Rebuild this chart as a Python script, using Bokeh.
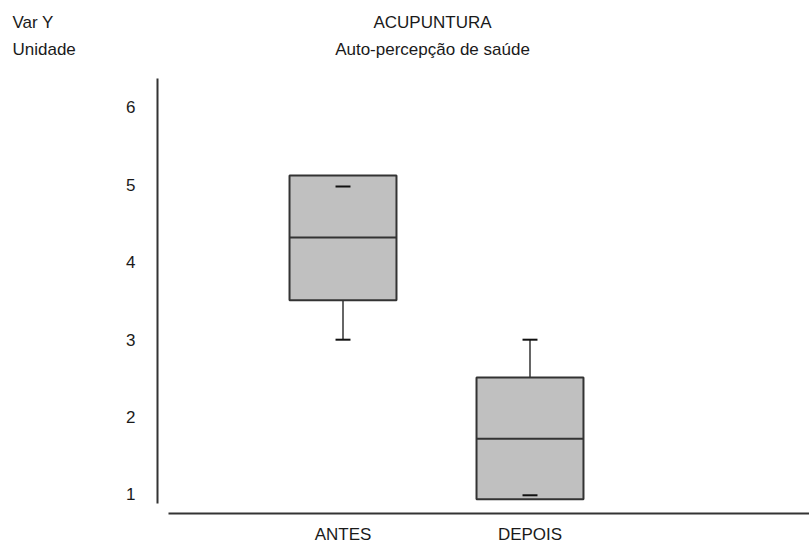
import numpy as np
from bokeh.plotting import figure
from bokeh.models import Range1d, FixedTicker, Label
from bokeh.embed import file_html
from bokeh.resources import INLINE

# ---- data ----
categories = ["ANTES", "DEPOIS"]
q1 = [3.51, 0.94]
median = [4.32, 1.72]
q3 = [5.12, 2.51]
whisker_low = [3.0, 0.99]
whisker_high = [4.98, 3.0]
y_ticks = [1, 2, 3, 4, 5, 6]

title_text = "ACUPUNTURA"
subtitle_text = "Auto-percepção de saúde"
var_label = "Var Y"
unit_label = "Unidade"

# ---- layout / styling ----
W, H = 809, 542
FONT = "Liberation Sans"
FS = "17px"
TXT = "#1a1a1a"
LINE = "#333333"
BOX_FILL = "#c0c0c0"
BOX_W = 0.572
CAP_W = 0.08

# frame covers the whole canvas; axes sit at fixed pixel positions inside it
X_START, X_END = -0.8316, 3.4947
Y_START, Y_END = 0.3798, 7.3824
Y_AXIS_PX, Y_AXIS_TOP_PX, Y_AXIS_BOT_PX = 157, 78, 503
X_AXIS_PX, X_AXIS_LEFT_PX = 513, 168


def px_x(px):
    return X_START + px * (X_END - X_START) / W


def px_y(py):
    return Y_END - py * (Y_END - Y_START) / H


xpos = np.arange(1, len(categories) + 1, dtype=float)
q1a, meda, q3a = np.array(q1), np.array(median), np.array(q3)
wlo, whi = np.array(whisker_low), np.array(whisker_high)

p = figure(width=W, height=H, x_range=Range1d(X_START, X_END), y_range=Range1d(Y_START, Y_END),
           output_backend="svg", toolbar_location=None,
           x_axis_location="below", y_axis_location="left", min_border=0)
p.min_border_left = 0
p.min_border_right = 0
p.min_border_top = 0
p.min_border_bottom = 0
p.grid.visible = False
p.outline_line_color = None

ya = p.yaxis[0]
ya.ticker = FixedTicker(ticks=y_ticks)
ya.fixed_location = px_x(Y_AXIS_PX)
ya.bounds = (px_y(Y_AXIS_BOT_PX), px_y(Y_AXIS_TOP_PX))
ya.major_label_standoff = 22

xa = p.xaxis[0]
xa.ticker = FixedTicker(ticks=list(xpos))
xa.major_label_overrides = {int(v): c for v, c in zip(xpos, categories)}
xa.fixed_location = px_y(X_AXIS_PX)
xa.bounds = (px_x(X_AXIS_LEFT_PX), X_END)
xa.major_label_standoff = 11

for ax in (xa, ya):
    ax.major_tick_out = 0
    ax.major_tick_in = 0
    ax.minor_tick_out = 0
    ax.minor_tick_in = 0
    ax.axis_line_width = 2
    ax.axis_line_color = LINE
    ax.major_label_text_font = FONT
    ax.major_label_text_font_size = FS
    ax.major_label_text_color = TXT

# whisker stems (only the parts outside the box)
stem_hi = np.maximum(whi, q3a)
stem_lo = np.minimum(wlo, q1a)
p.segment(x0=xpos, y0=q3a, x1=xpos, y1=stem_hi, line_color=LINE, line_width=1.5)
p.segment(x0=xpos, y0=stem_lo, x1=xpos, y1=q1a, line_color=LINE, line_width=1.5)

p.vbar(x=xpos, width=BOX_W, bottom=q1a, top=q3a, fill_color=BOX_FILL,
       line_color=LINE, line_width=2)
p.segment(x0=xpos - BOX_W / 2, y0=meda, x1=xpos + BOX_W / 2, y1=meda,
          line_color=LINE, line_width=2)
# caps
p.segment(x0=xpos - CAP_W / 2, y0=whi, x1=xpos + CAP_W / 2, y1=whi, line_color="#111111", line_width=2)
p.segment(x0=xpos - CAP_W / 2, y0=wlo, x1=xpos + CAP_W / 2, y1=wlo, line_color="#111111", line_width=2)

# header texts
for txt, px, py, align in [(var_label, 12, 22, "left"), (unit_label, 12, 49, "left"),
                           (title_text, 432, 22, "center"), (subtitle_text, 432, 49, "center")]:
    p.add_layout(Label(x=px_x(px), y=px_y(py), text=txt, text_align=align, text_baseline="middle",
                       text_font=FONT, text_font_size=FS, text_color=TXT))

open("out.html", "w").write(file_html(p, INLINE))
